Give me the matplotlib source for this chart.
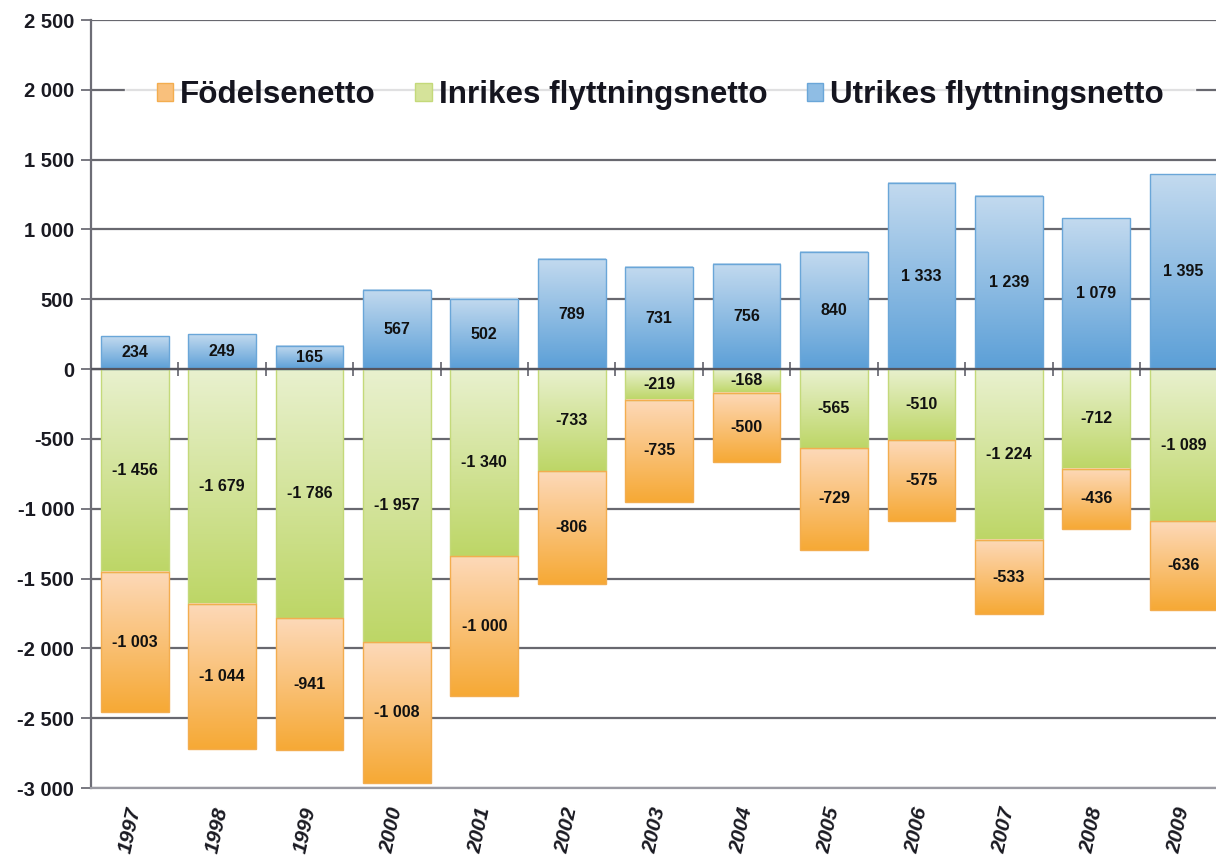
"""Befolkningsförändring per komponent, 1997-2009."""

import numpy as np
import matplotlib
matplotlib.use("Agg")
import matplotlib.pyplot as plt
from matplotlib.colors import LinearSegmentedColormap
from matplotlib.patches import Patch


years = ["1997", "1998", "1999", "2000", "2001", "2002", "2003",
         "2004", "2005", "2006", "2007", "2008", "2009"]
utrikes = [234, 249, 165, 567, 502, 789, 731, 756, 840, 1333, 1239, 1079, 1395]
inrikes = [-1456, -1679, -1786, -1957, -1340, -733, -219, -168, -565, -510,
           -1224, -712, -1089]
fodelse = [-1003, -1044, -941, -1008, -1000, -806, -735, -500, -729, -575,
           -533, -436, -636]
series_names = ["Födelsenetto", "Inrikes flyttningsnetto", "Utrikes flyttningsnetto"]
yticks = list(range(-3000, 2501, 500))

# (top colour, bottom colour, edge)
BLUE = ("#c3daef", "#5b9fd7", "#6aa6d8")
GREEN = ("#e9f1cf", "#bdd666", "#c4d97a")
ORANGE = ("#fdd9b9", "#f6a935", "#f3ad4f")


def fmt(v):
    return f"{v:,}".replace(",", " ")


def gradient_bars(ax, bars, colors):
    cmap = LinearSegmentedColormap.from_list("g", [colors[0], colors[1]])
    grad = np.linspace(0, 1, 256).reshape(-1, 1)
    for patch in bars:
        x0, w = patch.get_x(), patch.get_width()
        y0 = patch.get_y()
        y1 = y0 + patch.get_height()
        ax.imshow(grad, cmap=cmap, aspect="auto", origin="upper",
                  extent=[x0, x0 + w, min(y0, y1), max(y0, y1)], zorder=2,
                  interpolation="bicubic")
        patch.set_facecolor("none")
        patch.set_edgecolor(colors[2])
        patch.set_linewidth(1.0)
        patch.set_zorder(3)


def main():
    plt.rcParams["font.family"] = ["Liberation Sans", "DejaVu Sans"]
    plt.rcParams["axes.unicode_minus"] = False

    fig = plt.figure(figsize=(12.16, 8.55), dpi=100)
    ax = fig.add_axes([91 / 1216, 1 - 788 / 855, 1 - 91 / 1216, 768 / 855])

    x = np.arange(len(years))
    width = 0.775
    b_ut = ax.bar(x, utrikes, width)
    b_in = ax.bar(x, inrikes, width)
    b_fo = ax.bar(x, fodelse, width, bottom=inrikes)
    gradient_bars(ax, b_ut, BLUE)
    gradient_bars(ax, b_in, GREEN)
    gradient_bars(ax, b_fo, ORANGE)

    lbl = dict(ha="center", va="center", fontsize=11.5, fontweight="bold",
               color="#111111", zorder=5)
    for i in x:
        ax.text(i, utrikes[i] / 2, fmt(utrikes[i]), **lbl)
        ax.text(i, inrikes[i] / 2, fmt(inrikes[i]), **lbl)
        ax.text(i, inrikes[i] + fodelse[i] / 2, fmt(fodelse[i]), **lbl)

    ax.set_xlim(-0.5, 12.37)
    ax.set_ylim(-3000, 2500)
    ax.set_yticks(yticks)
    ax.set_yticklabels([fmt(v) for v in yticks], fontsize=14.5, fontweight="bold",
                       color="#1a1a22")
    ax.tick_params(axis="y", length=7, width=1.3, color="#6d6d76", pad=5)
    ax.yaxis.grid(True, color="#68686f", linewidth=1.6)
    ax.set_axisbelow(True)

    ax.set_xticks(x)
    ax.set_xticklabels(years, rotation=78, rotation_mode="anchor", ha="right",
                       va="center", fontsize=15, fontweight="bold",
                       fontstyle="italic", color="#1a1a22")
    ax.tick_params(axis="x", length=0, pad=14)

    # zero line with category boundary ticks
    ax.axhline(0, color="#55555e", linewidth=1.6, zorder=4)
    sec = ax.secondary_xaxis(3000 / 5500)
    sec.set_xticks(x[:-1] + 0.5)
    sec.set_xticklabels([])
    sec.tick_params(direction="inout", length=10, width=1.3, color="#6d6d76")
    sec.spines["bottom"].set_visible(False)

    for side in ["top", "right"]:
        ax.spines[side].set_visible(False)
    ax.spines["left"].set_color("#6d6d76")
    ax.spines["left"].set_linewidth(1.6)
    ax.spines["bottom"].set_color("#9a9aa2")
    ax.spines["bottom"].set_linewidth(1.6)

    handles = [Patch(facecolor="#f9c07c", edgecolor="#f3ad4f"),
               Patch(facecolor="#d5e39a", edgecolor="#c4d97a"),
               Patch(facecolor="#8fbde4", edgecolor="#6aa6d8")]
    leg = ax.legend(handles, series_names, loc="center", ncol=3,
                    bbox_to_anchor=(0.506, 0.902), frameon=True,
                    prop={"size": 22.6, "weight": "bold"}, handlelength=0.53,
                    handleheight=0.53, handletextpad=0.22, columnspacing=1.25,
                    borderpad=1.0, fancybox=False, labelcolor="#15151f")
    leg.get_frame().set_facecolor("white")
    leg.get_frame().set_edgecolor("white")
    leg.set_zorder(6)

    fig.savefig("out.png", dpi=100)
    plt.close(fig)


if __name__ == "__main__":
    main()
